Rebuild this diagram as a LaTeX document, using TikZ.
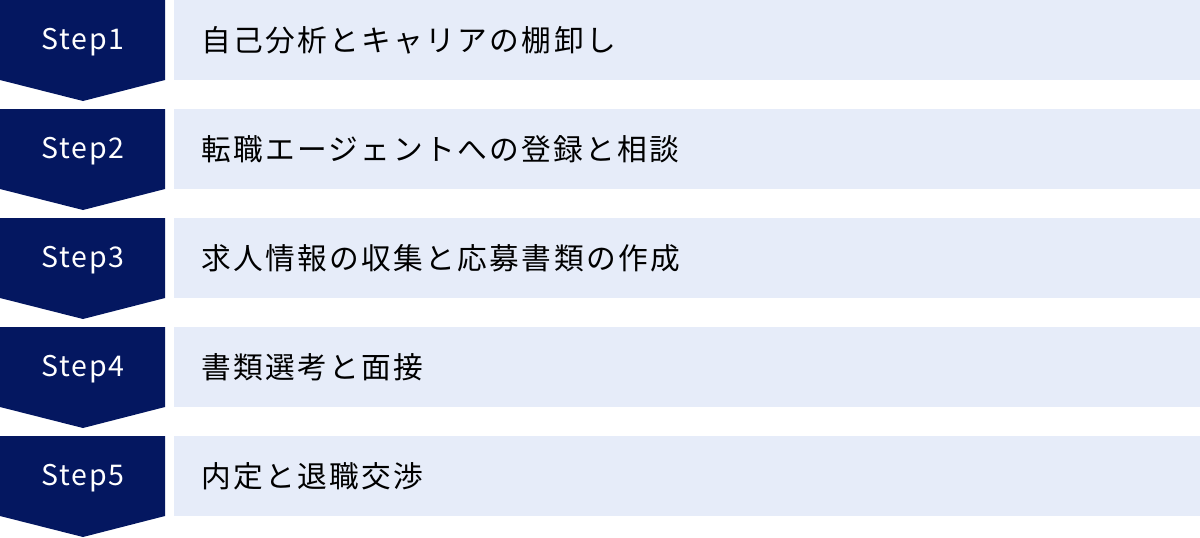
\documentclass[tikz,border=0pt]{standalone}
\usepackage{fontspec}
\newfontfamily\jpfont[LetterSpace=8]{Noto Sans CJK JP}
\newfontfamily\stepfont[LetterSpace=6]{Noto Sans CJK JP}
\definecolor{navy}{RGB}{4,23,96}
\definecolor{pale}{RGB}{230,236,249}
\tikzset{
  stepshape/.style={fill=navy, draw=none},
  bar/.style={fill=pale, draw=none},
  steplabel/.style={text=white, font=\stepfont\fontsize{28.5}{32}\selectfont, anchor=center, inner sep=0pt},
  barlabel/.style={text=black, font=\jpfont\fontsize{29.7}{34}\selectfont, anchor=west, inner sep=0pt}
}
\begin{document}
\begin{tikzpicture}[x=1pt,y=-1pt]
\useasboundingbox (0,0) rectangle (1200,538);
\foreach \i/\t in {1/自己分析とキャリアの棚卸し,2/転職エージェントへの登録と相談,3/求人情報の収集と応募書類の作成,4/書類選考と面接,5/内定と退職交渉}{
  \pgfmathsetmacro{\y}{(\i-1)*109}
  \fill[stepshape] (0,\y) -- (165,\y) -- (165,\y+80) -- (83,\y+101) -- (0,\y+80) -- cycle;
  \fill[bar] (174,\y) rectangle (1200,\y+80);
  \node[steplabel] (s\i) at (83,\y+42) {Step\i};
  \node[barlabel] (t\i) at (201,\y+40) {\t};
}
\end{tikzpicture}
\end{document}
